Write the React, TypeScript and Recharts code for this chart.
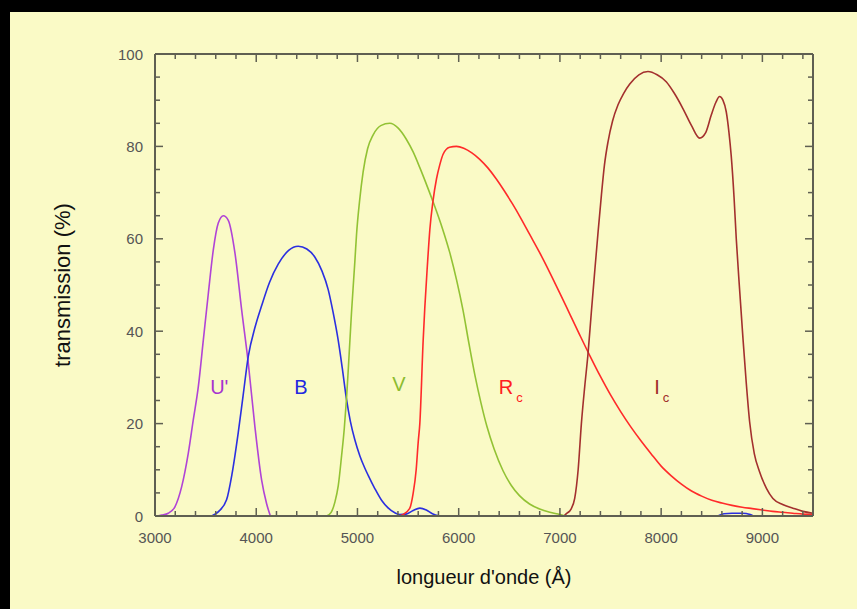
import React from "react";
import { LineChart, Line, XAxis, YAxis, ReferenceDot } from "recharts";

// ---------- data (wavelength in Å, transmission in %) ----------
const uWave = [3020, 3066, 3131, 3197, 3263, 3329, 3378, 3428, 3477, 3526, 3576, 3625, 3675, 3724, 3790, 3856, 3922, 3987, 4053, 4102, 4140];
const uTrans = [0, 0.2, 0.6, 2, 6.3, 13.6, 20.8, 28, 38, 48, 57.6, 63.4, 65, 64, 56.9, 44.6, 33, 19.3, 7.8, 2.7, 0];

const bWave = [3560, 3630, 3707, 3760, 3822, 3870, 3921, 3990, 4053, 4130, 4217, 4320, 4415, 4500, 4580, 4650, 4711, 4760, 4810, 4850, 4890, 4930, 4974, 5024, 5070, 5106, 5170, 5238, 5300, 5369, 5420, 5480, 5550, 5616, 5680, 5740, 5813, 5900, 8560, 8620, 8700, 8800, 8880, 8910];
const bTrans = [0, 1, 3.5, 9, 18, 26, 34.5, 41, 45.5, 50.5, 54.5, 57.5, 58.4, 57.8, 56, 53, 49, 44, 38, 32, 25.5, 20.5, 16.5, 13, 10.5, 8.8, 6, 3.4, 1.8, 0.7, 0.3, 0.4, 1.2, 1.7, 1.3, 0.5, 0, null, 0, 0.5, 0.6, 0.6, 0.3, 0];

const vWave = [4695, 4740, 4777, 4810, 4843, 4870, 4892, 4910, 4941, 4974, 4991, 5020, 5056, 5100, 5155, 5230, 5320, 5400, 5484, 5550, 5616, 5690, 5764, 5840, 5912, 5980, 6043, 6100, 6160, 6220, 6280, 6350, 6438, 6520, 6600, 6700, 6800, 6900, 7000, 7050];
const vTrans = [0, 0.8, 3, 6.5, 13, 19, 25.5, 32, 44, 55, 61, 68, 74.5, 79.5, 82.5, 84.5, 85, 84, 81.5, 78.8, 75.4, 71.3, 67, 62.2, 57, 51, 44.5, 37.5, 30.5, 24.5, 19.3, 14.5, 9.8, 6.6, 4.4, 2.6, 1.5, 0.8, 0.3, 0];

const rWave = [5400, 5450, 5517, 5550, 5580, 5600, 5616, 5649, 5665, 5690, 5715, 5745, 5781, 5813, 5846, 5910, 5978, 6050, 6130, 6208, 6290, 6370, 6450, 6530, 6610, 6700, 6800, 6900, 7000, 7100, 7200, 7300, 7400, 7500, 7600, 7700, 7800, 7900, 8000, 8100, 8200, 8300, 8400, 8500, 8600, 8700, 8800, 8900, 9000, 9100, 9200, 9300, 9400, 9500];
const rTrans = [0, 0.3, 1.7, 4.9, 10, 16, 20, 38, 45, 54, 62, 68, 73, 76, 78.3, 79.8, 80, 79.6, 78.6, 77.2, 75.3, 73, 70.4, 67.6, 64.6, 61, 57, 52.7, 48.2, 43.6, 39, 34.5, 30.2, 26.2, 22.6, 19.3, 16.3, 13.5, 10.8, 8.7, 6.9, 5.4, 4.3, 3.4, 2.8, 2.3, 1.9, 1.6, 1.3, 1.0, 0.8, 0.6, 0.4, 0.3];

const iWave = [7040, 7064, 7110, 7146, 7180, 7212, 7245, 7277, 7310, 7344, 7377, 7410, 7440, 7475, 7520, 7574, 7630, 7690, 7780, 7870, 7960, 8050, 8130, 8215, 8300, 8380, 8440, 8495, 8540, 8577, 8610, 8643, 8670, 8692, 8720, 8742, 8775, 8808, 8840, 8874, 8920, 8972, 9040, 9104, 9200, 9301, 9400, 9498];
const iTrans = [0, 0.5, 1.5, 3.8, 10, 20, 28, 35, 44, 53, 61.5, 69.5, 76, 81, 85.5, 89, 91.5, 93.5, 95.5, 96.2, 95.5, 94, 91.5, 88.2, 84.5, 81.8, 83, 86.8, 89.5, 90.8, 90, 87.5, 83, 78, 69, 60, 49, 38.5, 29, 20.4, 13.5, 9.6, 6, 3.8, 2.5, 1.7, 1, 0.6];

const xTicks = [3000, 3200, 3400, 3600, 3800, 4000, 4200, 4400, 4600, 4800, 5000, 5200, 5400, 5600, 5800, 6000, 6200, 6400, 6600, 6800, 7000, 7200, 7400, 7600, 7800, 8000, 8200, 8400, 8600, 8800, 9000, 9200, 9400];
const xMajor = [3000, 4000, 5000, 6000, 7000, 8000, 9000];
const yTicks = [0, 5, 10, 15, 20, 25, 30, 35, 40, 45, 50, 55, 60, 65, 70, 75, 80, 85, 90, 95, 100];
const yMajor = [0, 20, 40, 60, 80, 100];

const bandNames = ["U'", "B", "V", "R", "I"];
const bandSubs = ["", "", "", "c", "c"];
const bandLabelX = [3635, 4441, 5409, 6514, 8005];
const bandLabelY = [28, 28, 28.5, 28, 28];

const xTitle = "longueur d'onde (Å)";
const yTitle = "transmission (%)";

// ---------- styles ----------
const colors = ["#b043d6", "#2b2fe0", "#92c234", "#ff2a2a", "#a3302e"];
const labelColors = ["#a632d0", "#2228e0", "#8cbc30", "#ff2020", "#a02c2a"];
const AXIS = "#5f5f52";
const TICKTXT = "#555";
const FONT = "'Liberation Sans', Arial, Helvetica, sans-serif";

const build = (w: number[], t: (number | null)[]) => w.map((x, i) => ({ w: x, t: t[i] }));
const series = [
  build(uWave, uTrans),
  build(bWave, bTrans),
  build(vWave, vTrans),
  build(rWave, rTrans),
  build(iWave, iTrans),
];

const BottomTick = (p: any) => {
  const v = p.payload.value;
  const major = xMajor.includes(v);
  return (
    <g>
      <line x1={p.x} x2={p.x} y1={p.y} y2={p.y - (major ? 8 : 5)} stroke={AXIS} strokeWidth={1.5} />
      {major && (
        <text x={p.x} y={p.y + 21} textAnchor="middle" dominantBaseline="central" fill={TICKTXT} fontSize={15} fontFamily={FONT}>
          {v}
        </text>
      )}
    </g>
  );
};
const TopTick = (p: any) => {
  const major = xMajor.includes(p.payload.value);
  return <line x1={p.x} x2={p.x} y1={p.y} y2={p.y + (major ? 8 : 5)} stroke={AXIS} strokeWidth={1.5} />;
};
const LeftTick = (p: any) => {
  const v = p.payload.value;
  const major = yMajor.includes(v);
  return (
    <g>
      <line x1={p.x} x2={p.x + (major ? 8 : 5)} y1={p.y} y2={p.y} stroke={AXIS} strokeWidth={1.5} />
      {major && (
        <text x={p.x - 12} y={p.y} textAnchor="end" dominantBaseline="central" fill={TICKTXT} fontSize={15} fontFamily={FONT}>
          {v}
        </text>
      )}
    </g>
  );
};
const RightTick = (p: any) => {
  const major = yMajor.includes(p.payload.value);
  return <line x1={p.x} x2={p.x - (major ? 8 : 5)} y1={p.y} y2={p.y} stroke={AXIS} strokeWidth={1.5} />;
};

const makeBandShape = (i: number) => (p: any) => (
  <text x={p.cx} y={p.cy} textAnchor="middle" dominantBaseline="central" fill={labelColors[i]} fontSize={20} fontFamily={FONT}>
    <tspan>{bandNames[i]}</tspan>
    {bandSubs[i] && (
      <tspan dx={3} dy={10} fontSize={13}>
        {bandSubs[i]}
      </tspan>
    )}
  </text>
);

const YTitle = (p: any) => {
  const vb = p.viewBox;
  const x = vb.x - 33;
  const y = vb.y + vb.height / 2;
  return (
    <text x={x} y={y} transform={`rotate(-90 ${x} ${y})`} textAnchor="middle" dominantBaseline="central" fill="#111" fontSize={22} fontFamily={FONT}>
      {yTitle}
    </text>
  );
};
const XTitle = (p: any) => {
  const vb = p.viewBox;
  const x = vb.x + vb.width / 2;
  const y = vb.y + vb.height + 31;
  return (
    <text x={x} y={y} textAnchor="middle" dominantBaseline="central" fill="#111" fontSize={20} fontFamily={FONT}>
      {xTitle}
    </text>
  );
};

export default function App() {
  return (
    <div style={{ position: "absolute", left: 0, top: 0, width: 857, height: 609, background: "#000", overflow: "hidden" }}>
      <div style={{ position: "absolute", left: 10, top: 12, right: 0, bottom: 0, background: "#fafac6" }} />
      <div style={{ position: "absolute", left: 0, top: 0 }}>
        <LineChart width={857} height={609} margin={{ top: 53, right: 43, bottom: 63, left: 95 }}>
          <XAxis
            dataKey="w"
            type="number"
            domain={[3000, 9500]}
            ticks={xTicks}
            interval={0}
            allowDataOverflow
            height={30}
            tickSize={0}
            tickMargin={0}
            tickLine={false}
            tick={<BottomTick />}
            axisLine={{ stroke: AXIS, strokeWidth: 2 }}
            label={<XTitle />}
          />
          <XAxis
            xAxisId="top"
            orientation="top"
            dataKey="w"
            type="number"
            domain={[3000, 9500]}
            ticks={xTicks}
            interval={0}
            allowDataOverflow
            height={1}
            tickSize={0}
            tickMargin={0}
            tickLine={false}
            tick={<TopTick />}
            axisLine={{ stroke: AXIS, strokeWidth: 2 }}
          />
          <YAxis
            type="number"
            domain={[0, 100]}
            ticks={yTicks}
            interval={0}
            allowDataOverflow
            width={60}
            tickSize={0}
            tickMargin={0}
            tickLine={false}
            tick={<LeftTick />}
            axisLine={{ stroke: AXIS, strokeWidth: 2 }}
            label={<YTitle />}
          />
          <YAxis
            yAxisId="right"
            orientation="right"
            type="number"
            domain={[0, 100]}
            ticks={yTicks}
            interval={0}
            allowDataOverflow
            width={1}
            tickSize={0}
            tickMargin={0}
            tickLine={false}
            tick={<RightTick />}
            axisLine={{ stroke: AXIS, strokeWidth: 2 }}
          />
          <Line
            data={series[0]}
            dataKey="t"
            xAxisId="top"
            yAxisId="right"
            stroke="none"
            dot={false}
            activeDot={false}
            isAnimationActive={false}
          />
          {series.map((d, i) => (
            <Line
              key={i}
              data={d}
              dataKey="t"
              type="monotone"
              stroke={colors[i]}
              strokeWidth={1.6}
              dot={false}
              activeDot={false}
              connectNulls={false}
              isAnimationActive={false}
            />
          ))}
          {bandNames.map((n, i) => (
            <ReferenceDot key={n} x={bandLabelX[i]} y={bandLabelY[i]} r={0} shape={makeBandShape(i)} />
          ))}
        </LineChart>
      </div>
    </div>
  );
}
